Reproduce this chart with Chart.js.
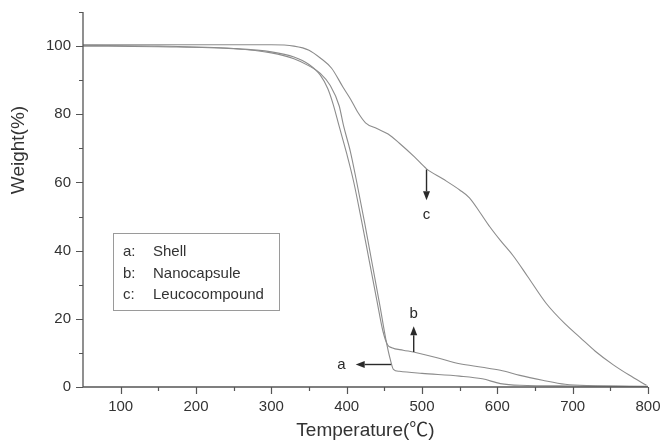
<!DOCTYPE html>
<html>
<head>
<meta charset="utf-8">
<script src="https://cdn.jsdelivr.net/npm/chart.js@4"></script>
<style>
  html, body { margin: 0; background: #fff; }
  #wrap { width: 661px; height: 442px; }
</style>
</head>
<body>
<div id="wrap"><canvas id="tga"></canvas></div>
<script>
// a: shell
const shellTemp   = [50, 150, 250, 300, 330, 350, 365, 378, 390, 396, 405, 413, 424, 434, 444, 452, 458, 462, 470, 500, 550, 580, 604, 630, 700, 800];
const shellWeight = [100, 99.8, 99.2, 98.0, 96.3, 94.2, 92.0, 88.5, 82.5, 76.5, 69, 60.5, 48, 36, 24, 14, 8, 5.2, 4.6, 4.0, 3.2, 2.4, 1.0, 0.5, 0.3, 0.1];

// b: nanocapsule
const capsuleTemp   = [50, 150, 250, 300, 330, 350, 365, 375, 382, 390, 400, 409, 420, 430, 440, 448, 454, 460, 475, 490, 520, 550, 580, 604, 630, 660, 690, 720, 800];
const capsuleWeight = [100.2, 100, 99.3, 98.3, 96.8, 94.6, 91.5, 87.5, 83, 76.5, 68.5, 60.5, 48.5, 37, 25.5, 16.5, 12.5, 11.5, 10.8, 10.2, 8.6, 6.8, 5.8, 4.9, 3.4, 2.0, 0.8, 0.4, 0.2];

// c: leucocompound
const leucoTemp   = [50, 300, 330, 350, 365, 380, 395, 405, 415, 425, 440, 455, 470, 490, 506, 528, 550, 563, 577, 590, 604, 621, 640, 665, 690, 710, 730, 754, 775, 798];
const leucoWeight = [100.4, 100.4, 100, 98.8, 96.5, 93.5, 88, 84.5, 80.5, 77.5, 75.8, 74.2, 71.5, 67.5, 64, 61, 57.8, 55.5, 51.2, 47, 43, 38.5, 32.5, 24.5, 18.5, 14.5, 10.5, 6.5, 3.5, 0.5];

const xTickLabels = [100, 200, 300, 400, 500, 600, 700, 800];
const yTickLabels = [0, 20, 40, 60, 80, 100];
const legendKeys  = ["a:", "b:", "c:"];
const legendNames = ["Shell", "Nanocapsule", "Leucocompound"];

const FONT = "'Liberation Sans', Arial, sans-serif";
const CURVE = "#8c8c8c";
const AXIS = "#555";
const INK = "#2a2a2a";

const toPoints = (xs, ys) => xs.map((t, i) => ({ x: t, y: ys[i] }));

function arrow(ctx, x1, y1, x2, y2) {
  const ang = Math.atan2(y2 - y1, x2 - x1);
  const hl = 9, hw = 3.5;
  ctx.beginPath();
  ctx.moveTo(x1, y1);
  ctx.lineTo(x2 - hl * Math.cos(ang), y2 - hl * Math.sin(ang));
  ctx.stroke();
  ctx.beginPath();
  ctx.moveTo(x2, y2);
  ctx.lineTo(x2 - hl * Math.cos(ang) + hw * Math.sin(ang), y2 - hl * Math.sin(ang) - hw * Math.cos(ang));
  ctx.lineTo(x2 - hl * Math.cos(ang) - hw * Math.sin(ang), y2 - hl * Math.sin(ang) + hw * Math.cos(ang));
  ctx.closePath();
  ctx.fill();
}

// keep the plot box fixed, no automatic label padding
const fixPad = s => { s.paddingTop = 0; s.paddingBottom = 0; s.paddingLeft = 0; s.paddingRight = 0; };

const decor = {
  id: "decor",
  afterDraw(chart) {
    const { ctx, chartArea: ca, scales: { x, y } } = chart;
    ctx.save();

    // axis lines
    ctx.strokeStyle = AXIS;
    ctx.lineWidth = 1.3;
    ctx.beginPath();
    ctx.moveTo(ca.left, ca.top);
    ctx.lineTo(ca.left, ca.bottom);
    ctx.lineTo(ca.right, ca.bottom);
    ctx.stroke();

    // tick marks (major + minor)
    ctx.lineWidth = 1.2;
    ctx.beginPath();
    for (let v = 100; v <= 800; v += 50) {
      const px = Math.round(x.getPixelForValue(v)) + 0.5;
      const len = v % 100 === 0 ? 7 : 4;
      ctx.moveTo(px, ca.bottom);
      ctx.lineTo(px, ca.bottom + len);
    }
    for (let v = 0; v <= 110; v += 10) {
      const py = Math.round(y.getPixelForValue(v)) + 0.5;
      const len = v % 20 === 0 ? 7 : 4;
      ctx.moveTo(ca.left, py);
      ctx.lineTo(ca.left - len, py);
    }
    ctx.stroke();

    // axis titles
    ctx.fillStyle = "#333";
    ctx.font = "19px " + FONT + ", 'Noto Sans CJK SC'";
    ctx.textAlign = "center";
    ctx.textBaseline = "middle";
    ctx.fillText("Temperature(\u2103)", (ca.left + ca.right) / 2, 431);
    ctx.save();
    ctx.translate(19, 150);
    ctx.rotate(-Math.PI / 2);
    ctx.fillText("Weight(%)", 0, 0);
    ctx.restore();

    // legend box
    const bx = ca.left + 30, by = 233, bw = 166, bh = 77;
    ctx.fillStyle = "#fff";
    ctx.fillRect(bx, by, bw, bh);
    ctx.strokeStyle = "#9a9a9a";
    ctx.lineWidth = 1;
    ctx.strokeRect(bx + 0.5, by + 0.5, bw, bh);
    ctx.fillStyle = "#333";
    ctx.font = "15px " + FONT;
    ctx.textAlign = "left";
    legendKeys.forEach((k, i) => {
      const ty = by + 19 + i * 21.5;
      ctx.fillText(k, bx + 10, ty);
      ctx.fillText(legendNames[i], bx + 40, ty);
    });

    // curve labels with arrows
    ctx.strokeStyle = INK;
    ctx.fillStyle = INK;
    ctx.lineWidth = 1.4;
    ctx.font = "15px " + FONT;
    ctx.textAlign = "center";

    arrow(ctx, x.getPixelForValue(506), y.getPixelForValue(63.8), x.getPixelForValue(506), y.getPixelForValue(54.8));
    ctx.fillText("c", x.getPixelForValue(506), y.getPixelForValue(50.6));

    arrow(ctx, x.getPixelForValue(489), y.getPixelForValue(10.3), x.getPixelForValue(489), y.getPixelForValue(17.8));
    ctx.fillText("b", x.getPixelForValue(489), y.getPixelForValue(21.6));

    arrow(ctx, x.getPixelForValue(459), y.getPixelForValue(6.6), x.getPixelForValue(412), y.getPixelForValue(6.6));
    ctx.fillText("a", x.getPixelForValue(393), y.getPixelForValue(6.4));

    ctx.restore();
  }
};

new Chart(document.getElementById("tga"), {
  type: "line",
  data: {
    datasets: [
      { label: "Shell", data: toPoints(shellTemp, shellWeight) },
      { label: "Nanocapsule", data: toPoints(capsuleTemp, capsuleWeight) },
      { label: "Leucocompound", data: toPoints(leucoTemp, leucoWeight) }
    ].map(d => Object.assign(d, {
      borderColor: CURVE,
      borderWidth: 1.1,
      pointRadius: 0,
      fill: false,
      cubicInterpolationMode: "monotone"
    }))
  },
  options: {
    responsive: true,
    maintainAspectRatio: false,
    animation: false,
    events: [],
    layout: { padding: { left: 0, top: 12, right: 13, bottom: 0 } },
    plugins: { legend: { display: false }, tooltip: { enabled: false } },
    scales: {
      x: {
        type: "linear",
        min: 50,
        max: 800,
        grid: { display: false, drawTicks: false },
        border: { display: false },
        afterBuildTicks: s => { s.ticks = xTickLabels.map(v => ({ value: v })); },
        afterFit: s => { s.height = 55; fixPad(s); },
        ticks: { padding: 11, maxRotation: 0, autoSkip: false, color: "#333", font: { family: FONT, size: 15 } }
      },
      y: {
        min: 0,
        max: 110,
        grid: { display: false, drawTicks: false },
        border: { display: false },
        afterBuildTicks: s => { s.ticks = yTickLabels.map(v => ({ value: v })); },
        afterFit: s => { s.width = 83; fixPad(s); },
        ticks: { padding: 12, autoSkip: false, color: "#333", font: { family: FONT, size: 15 } }
      }
    }
  },
  plugins: [decor]
});
</script>
</body>
</html>
